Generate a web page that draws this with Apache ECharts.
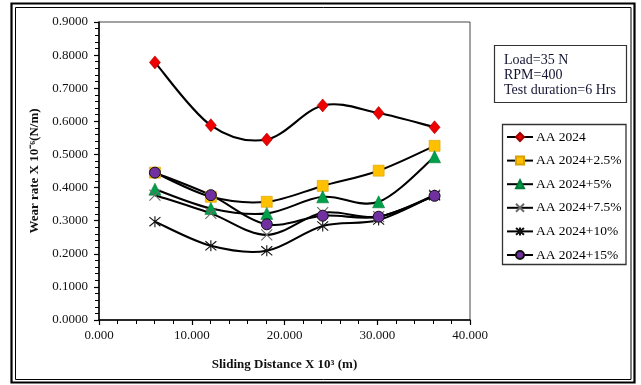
<!DOCTYPE html>
<html>
<head>
<meta charset="utf-8">
<script src="https://cdn.jsdelivr.net/npm/echarts@6/dist/echarts.min.js"></script>
<style>
  html, body { margin: 0; padding: 0; background: #fff; }
  #chart { width: 641px; height: 385px; }
</style>
</head>
<body>
<div id="chart"></div>
<script>
// Sliding distance (x 10^3 m) at each test interval
const distances = [6.03, 12.06, 18.09, 24.12, 30.15, 36.18];

// Wear rate x 10^-6 (N/m) for each composition
const aa2024      = [0.778, 0.588, 0.545, 0.648, 0.625, 0.582];
const aa2024_2_5  = [0.445, 0.372, 0.357, 0.405, 0.451, 0.526];
const aa2024_5    = [0.395, 0.337, 0.322, 0.372, 0.357, 0.493];
const aa2024_7_5  = [0.377, 0.322, 0.257, 0.324, 0.312, 0.377];
const aa2024_10   = [0.297, 0.224, 0.209, 0.284, 0.302, 0.377];
const aa2024_15   = [0.445, 0.377, 0.289, 0.315, 0.312, 0.375];

const seriesNames = ['AA 2024', 'AA 2024+2.5%', 'AA 2024+5%', 'AA 2024+7.5%', 'AA 2024+10%', 'AA 2024+15%'];
const seriesValues = [aa2024, aa2024_2_5, aa2024_5, aa2024_7_5, aa2024_10, aa2024_15];

const yTicks = [0, 0.1, 0.2, 0.3, 0.4, 0.5, 0.6, 0.7, 0.8, 0.9];
const xTicks = [0, 10, 20, 30, 40];

const SERIF = '"Liberation Serif", "Times New Roman", serif';

const markerStyles = [
  { symbol: 'diamond', size: [11, 13], item: { color: '#ee0000', borderColor: '#a00000', borderWidth: 0.6 } },
  { symbol: 'rect', size: 11, item: { color: '#ffc000', borderColor: '#d9a000', borderWidth: 0.6 } },
  { symbol: 'triangle', size: 12, item: { color: '#00a04a', borderColor: '#007a35', borderWidth: 0.6 } },
  { symbol: 'path://M0,0L10,10M10,0L0,10', size: 11, item: { color: '#777', borderColor: '#6a6a6a', borderWidth: 1.1 } },
  { symbol: 'path://M0,0L10,10M10,0L0,10M5,-1L5,11', size: 11, item: { color: '#111', borderColor: '#111', borderWidth: 1.1 } },
  { symbol: 'circle', size: 11, item: { color: '#7030a0', borderColor: '#111', borderWidth: 1 } }
];

// Smoothed connecting curve (cardinal spline through the data points),
// one Bezier segment per data item, positioned via the axis scales.
function curveRenderer(values) {
  return function (params, api) {
    const i = params.dataIndex;
    const n = distances.length;
    if (i >= n - 1) return null;
    const pt = k => {
      const j = Math.max(0, Math.min(n - 1, k));
      return api.coord([distances[j], values[j]]);
    };
    const p0 = pt(i - 1), p1 = pt(i), p2 = pt(i + 1), p3 = pt(i + 2);
    const t = 1 / 6;
    return {
      type: 'bezierCurve',
      shape: {
        x1: p1[0], y1: p1[1],
        cpx1: p1[0] + (p2[0] - p0[0]) * t, cpy1: p1[1] + (p2[1] - p0[1]) * t,
        cpx2: p2[0] - (p3[0] - p1[0]) * t, cpy2: p2[1] - (p3[1] - p1[1]) * t,
        x2: p2[0], y2: p2[1]
      },
      style: { stroke: '#000', lineWidth: 2.1, fill: null },
      silent: true
    };
  };
}

const curveSeries = seriesValues.map((values, i) => ({
  id: 'curve' + i,
  type: 'custom',
  renderItem: curveRenderer(values),
  data: distances.map((d, k) => [d, values[k]]),
  encode: { x: 0, y: 1 },
  z: 1,
  silent: true
}));

const markerSeries = seriesNames.map((name, i) => ({
  name: name,
  type: 'line',
  data: distances.map((d, k) => [d, seriesValues[i][k]]),
  symbol: markerStyles[i].symbol,
  symbolSize: markerStyles[i].size,
  itemStyle: markerStyles[i].item,
  lineStyle: { color: '#000', width: 2, opacity: 0 },
  emphasis: { disabled: true },
  z: 3 + i
}));

const chart = echarts.init(document.getElementById('chart'), null, { renderer: 'canvas' });

chart.setOption({
  animation: false,
  backgroundColor: '#fff',
  grid: {
    left: 99, top: 22, right: 171, bottom: 65,
    show: true, borderColor: '#444', borderWidth: 1
  },
  xAxis: {
    type: 'value',
    min: xTicks[0], max: xTicks[xTicks.length - 1], interval: 10,
    name: 'Sliding Distance X 10³ (m)',
    nameLocation: 'middle', nameGap: 38,
    nameTextStyle: { fontFamily: SERIF, fontWeight: 'bold', fontSize: 13, color: '#111' },
    axisLine: { lineStyle: { color: '#000', width: 1.5 } },
    axisTick: { show: true, inside: false, length: 5, lineStyle: { color: '#000', width: 1.2 } },
    minorTick: { show: true, splitNumber: 5, length: 4, lineStyle: { color: '#000', width: 1 } },
    splitLine: { show: false },
    axisLabel: {
      fontFamily: SERIF, fontSize: 13, color: '#111', margin: 9,
      formatter: v => v.toFixed(3)
    }
  },
  yAxis: {
    type: 'value',
    min: yTicks[0], max: yTicks[yTicks.length - 1], interval: 0.1,
    name: 'Wear rate X 10⁻⁶(N/m)',
    nameLocation: 'middle', nameGap: 57, nameRotate: 90,
    nameTextStyle: { fontFamily: SERIF, fontWeight: 'bold', fontSize: 13, color: '#111' },
    axisLine: { show: true, lineStyle: { color: '#000', width: 1.5 } },
    axisTick: { show: true, inside: false, length: 5, lineStyle: { color: '#000', width: 1.2 } },
    minorTick: { show: true, splitNumber: 5, length: 4, lineStyle: { color: '#000', width: 1 } },
    splitLine: { show: false },
    axisLabel: {
      fontFamily: SERIF, fontSize: 13, color: '#111', margin: 11,
      formatter: v => v.toFixed(4)
    }
  },
  legend: {
    orient: 'vertical',
    left: 506, top: 130,
    itemWidth: 26, itemHeight: 10, itemGap: 9.6,
    padding: 0,
    lineStyle: { opacity: 1, width: 2, color: '#000' },
    textStyle: { fontFamily: SERIF, fontSize: 13.5, color: '#000', padding: [0, 0, 0, -2] },
    data: seriesNames,
    selectedMode: false
  },
  graphic: [
    // double frame around the whole figure
    { type: 'rect', shape: { x: 11.5, y: 3.5, width: 623, height: 379 }, style: { fill: 'none', stroke: '#000', lineWidth: 2.2 }, silent: true },
    { type: 'rect', shape: { x: 15.5, y: 7.5, width: 615.5, height: 372 }, style: { fill: 'none', stroke: '#000', lineWidth: 1 }, silent: true },
    // test conditions box
    { type: 'rect', shape: { x: 494.5, y: 45.5, width: 132, height: 57 }, style: { fill: '#fff', stroke: '#333', lineWidth: 1.2 }, silent: true },
    {
      type: 'text', left: 504, top: 52.5, silent: true,
      style: {
        text: 'Load=35 N\nRPM=400\nTest duration=6 Hrs',
        font: '14px ' + SERIF, fill: '#141432', lineHeight: 15
      }
    },
    // legend box
    { type: 'rect', shape: { x: 502.5, y: 124.5, width: 123.5, height: 140 }, style: { fill: 'none', stroke: '#333', lineWidth: 1.3 }, silent: true, z: -1 }
  ],
  series: curveSeries.concat(markerSeries)
});
</script>
</body>
</html>
